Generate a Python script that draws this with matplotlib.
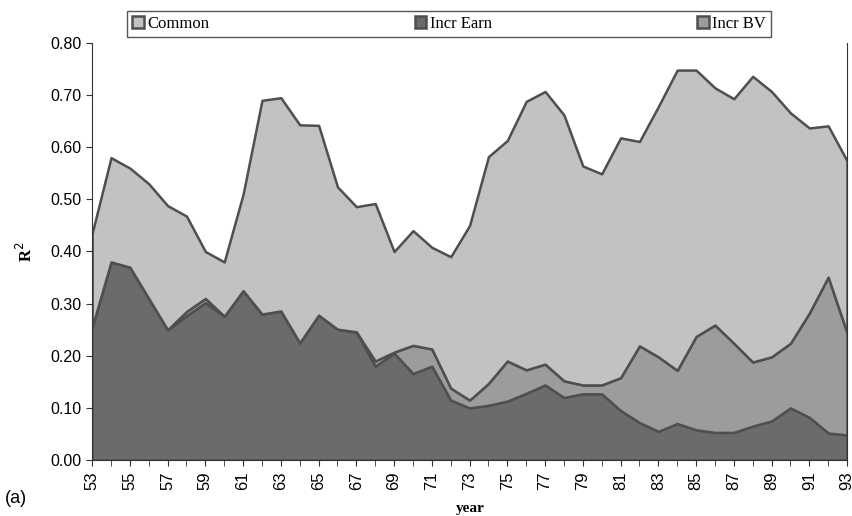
import matplotlib.pyplot as plt
import numpy as np

# years 1953-1993, shown as two-digit labels
years = np.arange(53, 94)

incr_earn = [0.255, 0.380, 0.370, 0.310, 0.250, 0.277, 0.302, 0.276, 0.325, 0.280,
             0.286, 0.225, 0.278, 0.251, 0.246, 0.180, 0.205, 0.166, 0.180, 0.115,
             0.100, 0.105, 0.113, 0.128, 0.144, 0.120, 0.127, 0.127, 0.095, 0.072,
             0.055, 0.070, 0.058, 0.053, 0.053, 0.065, 0.075, 0.100, 0.082, 0.052,
             0.048]
incr_bv = [0.000, 0.000, 0.000, 0.000, 0.000, 0.008, 0.008, 0.000, 0.000, 0.000,
           0.000, 0.000, 0.000, 0.000, 0.000, 0.010, 0.002, 0.054, 0.033, 0.023,
           0.015, 0.042, 0.077, 0.045, 0.040, 0.032, 0.017, 0.017, 0.063, 0.147,
           0.143, 0.102, 0.179, 0.206, 0.171, 0.123, 0.123, 0.124, 0.200, 0.299,
           0.196]
common = [0.180, 0.200, 0.190, 0.220, 0.238, 0.183, 0.090, 0.104, 0.185, 0.410,
          0.409, 0.418, 0.364, 0.273, 0.240, 0.302, 0.193, 0.220, 0.195, 0.252,
          0.335, 0.435, 0.423, 0.515, 0.523, 0.510, 0.420, 0.405, 0.460, 0.392,
          0.480, 0.576, 0.511, 0.455, 0.469, 0.548, 0.509, 0.442, 0.355, 0.290,
          0.330]

c_earn = '#6b6b6b'
c_bv = '#9c9c9c'
c_common = '#c2c2c2'

fig = plt.figure(figsize=(8.53, 5.16), dpi=100)
ax = fig.add_axes([0.108, 0.1085, 0.885, 0.8082])

polys = ax.stackplot(years, incr_earn, incr_bv, common,
                     colors=[c_earn, c_bv, c_common],
                     edgecolor='#4f4f4f', linewidth=1.8)

ax.set_xlim(53, 93)
ax.set_ylim(0, 0.8)
ax.set_yticks(np.arange(0, 0.81, 0.1))
ax.set_yticklabels(['%.2f' % v for v in np.arange(0, 0.81, 0.1)],
                   fontfamily='Liberation Sans', fontsize=11.5)
ax.set_xticks(years, minor=True)
ax.set_xticks(years[::2])
ax.set_xticklabels([str(y) for y in years[::2]], rotation=90,
                   fontfamily='Liberation Sans', fontsize=12)
ax.tick_params(axis='both', which='both', direction='out', length=4, color='#333333')
ax.tick_params(axis='x', which='major', pad=4)
ax.spines['top'].set_visible(False)
for s in ['left', 'bottom', 'right']:
    ax.spines[s].set_color('#333333')

ax.set_ylabel('R$^2$', fontfamily='Liberation Serif', fontweight='bold', fontsize=12)
ax.yaxis.set_label_coords(-0.075, 0.5)
fig.text(0.551, 0.008, 'year', fontfamily='Liberation Serif', fontweight='bold',
         fontsize=11, ha='center')
fig.text(0.006, 0.025, '(a)', fontfamily='Liberation Sans', fontsize=13)

handles = [polys[2], polys[0], polys[1]]
leg = fig.legend(handles, ['Common', 'Incr Earn', 'Incr BV'],
                 loc='lower left', bbox_to_anchor=(0.149, 0.928, 0.755, 0.05),
                 mode='expand', ncol=3, fancybox=False, edgecolor='#555555',
                 prop={'family': 'Liberation Serif', 'size': 12},
                 handlelength=0.7, handleheight=0.7, handletextpad=0.2,
                 borderpad=0.3, borderaxespad=0, framealpha=1)
leg.get_frame().set_linewidth(1.0)

fig.savefig('out.png', dpi=100)
